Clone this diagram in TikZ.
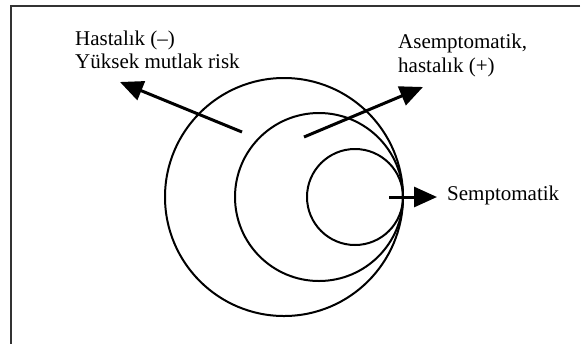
\documentclass[tikz,border=0pt]{standalone}
\usepackage{fontspec}
\setmainfont{Liberation Serif}
\usetikzlibrary{arrows.meta}

\begin{document}
\begin{tikzpicture}[x=1bp, y=-1bp,
    ring/.style={line width=2bp},
    pointer/.style={line width=3bp, -{Triangle[length=23bp, width=20bp]}},
    lbl/.style={anchor=base west, inner sep=0pt,
      font=\fontsize{21bp}{24bp}\selectfont}]
  \useasboundingbox (0,0) rectangle (585,344);
  \draw[line width=1.8bp, black!80] (580,6) -- (11,6) -- (11,344);
  % nested circles, all touching at the right
  \draw[ring] (284,197) circle (119bp);
  \draw[ring] (319,197) circle (84bp);
  \draw[ring] (355,197) circle (48bp);
  % labels
  \node[lbl] (risklbl) at (75,45) {Hastalık (–)};
  \node[lbl] (risklbl2) at (75,68) {Yüksek mutlak risk};
  \node[lbl] (asymlbl) at (398,48) {Asemptomatik,};
  \node[lbl] (asymlbl2) at (398,72) {hastalık (+)};
  \node[lbl] (symlbl) at (447,200) {Semptomatik};
  % arrows
  \coordinate (riskfrom) at (242,132);
  \coordinate (riskto) at (120,82);
  \coordinate (asymfrom) at (304,137);
  \coordinate (asymto) at (423,87);
  \coordinate (symfrom) at (389,197);
  \coordinate (symto) at (437,197);
  \draw[pointer] (riskfrom) -- (riskto);
  \draw[pointer] (asymfrom) -- (asymto);
  \draw[pointer] (symfrom) -- (symto);
\end{tikzpicture}
\end{document}
